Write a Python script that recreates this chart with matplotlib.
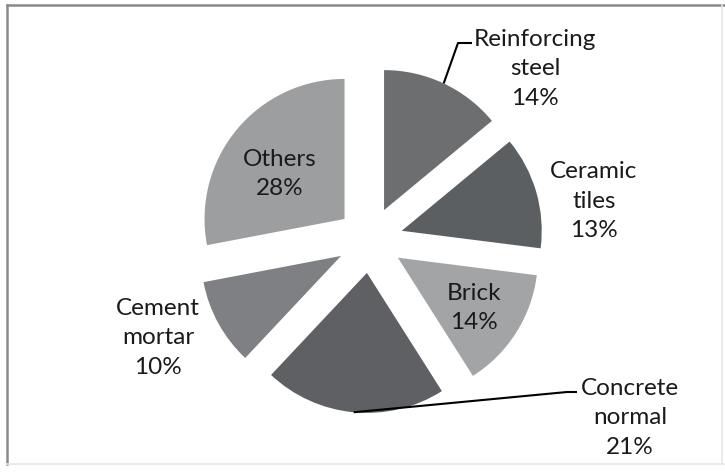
import numpy as np
import matplotlib
matplotlib.use("Agg")
import matplotlib.pyplot as plt
from matplotlib.lines import Line2D

# ---- data ----
categories = ["Reinforcing\nsteel", "Ceramic\ntiles", "Brick", "Concrete\nnormal", "Cement\nmortar", "Others"]
values = [14, 13, 14, 21, 10, 28]
colors = ["#6c6e70", "#5c5f62", "#a2a4a6", "#5e6063", "#7e8083", "#9c9ea0"]

W, H = 725, 473
CX, CY, RPX = 370, 240, 140  # pie centre and radius in pixels
EXPL = 0.236

plt.rcParams['font.family'] = ['Lato', 'DejaVu Sans']

fig = plt.figure(figsize=(W / 100, H / 100), dpi=100)
ax = fig.add_axes([0, 0, 1, 1])

wedges, _ = ax.pie(values, colors=colors, explode=[EXPL] * len(values),
                   startangle=90, counterclock=False, radius=1,
                   wedgeprops=dict(linewidth=0))
ax.set_aspect('auto')
ax.set_xlim(-CX / RPX, (W - CX) / RPX)
ax.set_ylim(-(H - CY) / RPX, CY / RPX)
ax.axis('off')


def px(x, y):
    return ((x - CX) / RPX, (CY - y) / RPX)


def arc_mid(w):
    th = np.deg2rad((w.theta1 + w.theta2) / 2)
    cx, cy = w.center
    return cx + w.r * np.cos(th), cy + w.r * np.sin(th)


FS = 17.5
LS = 1.5
# label positions in pixels (centre of text block)
label_pos = [(535, 69), (594, 201), (474, 308), (630, 418), (158, 338), (280, 174)]
for cat, v, (lx, ly) in zip(categories, values, label_pos):
    x, y = px(lx, ly)
    ax.text(x, y, f"{cat}\n{v}%", ha='center', va='center', ma='center',
            fontsize=FS, linespacing=LS, color='#1a1a1a')

# leader lines
x0, y0 = arc_mid(wedges[0])
p1, p2 = px(458, 43), px(472, 43)
ax.plot([x0, p1[0], p2[0]], [y0, p1[1], p2[1]], color='black', lw=1.5,
        solid_capstyle='butt')
x0, y0 = arc_mid(wedges[3])
p1, p2 = px(567, 392), px(577, 392)
ax.plot([x0, p1[0], p2[0]], [y0, p1[1], p2[1]], color='black', lw=1.5,
        solid_capstyle='butt')

# outer frame
fig.add_artist(Line2D([7 / W, 1], [1 - 5 / H, 1 - 5 / H], color='#8a8a8a', lw=1.8,
                      transform=fig.transFigure))
fig.add_artist(Line2D([7 / W, 7 / W], [1 - 5 / H, 9 / H], color='#8a8a8a', lw=1.8,
                      transform=fig.transFigure))
fig.add_artist(Line2D([7 / W, 1], [9 / H, 9 / H], color='#e6e6e6', lw=1.2,
                      transform=fig.transFigure))
fig.add_artist(Line2D([1 - 3 / W, 1 - 3 / W], [9 / H, 1 - 5 / H], color='#e6e6e6', lw=1.2,
                      transform=fig.transFigure))

fig.savefig("out.png", dpi=100)
